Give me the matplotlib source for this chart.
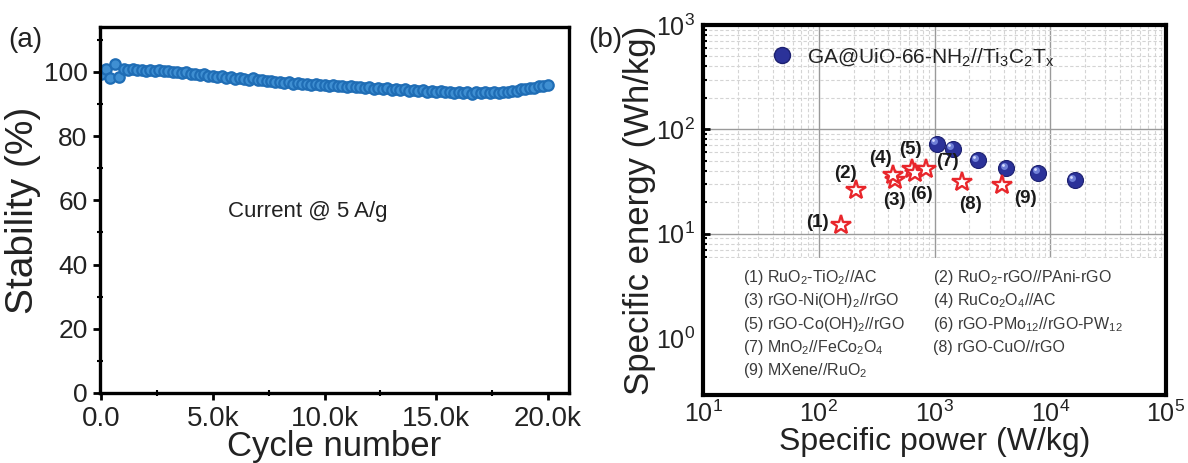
import numpy as np
import matplotlib
matplotlib.use("Agg")
import matplotlib.pyplot as plt
import matplotlib.transforms as mtransforms
from matplotlib.ticker import MultipleLocator, LogLocator, NullFormatter
from matplotlib.patches import Rectangle
from matplotlib.lines import Line2D

plt.rcParams['font.family'] = ['Liberation Sans', 'DejaVu Sans']
plt.rcParams['mathtext.fontset'] = 'custom'
plt.rcParams['mathtext.rm'] = 'Liberation Sans'
plt.rcParams['mathtext.it'] = 'Liberation Sans:italic'
plt.rcParams['mathtext.bf'] = 'Liberation Sans:bold'

# ---------------- data: panel (a) ----------------
cycles = list(range(0, 20001, 200))
stability = [99.5, 101.0, 98.0, 102.5, 98.5, 100.8, 100.6, 100.9, 100.5, 100.7,
             100.4, 100.6, 100.3, 100.6, 100.2, 100.4, 100.0, 99.9, 99.6, 99.9,
             99.4, 99.3, 99.0, 99.3, 98.8, 98.7, 98.4, 98.7, 98.2, 98.4,
             97.9, 98.2, 97.8, 97.5, 98.0, 97.4, 97.6, 97.1, 97.3, 96.8,
             97.0, 96.6, 96.8, 96.4, 96.6, 96.2, 96.4, 96.0, 96.2, 95.8,
             96.0, 95.7, 95.9, 95.5, 95.7, 95.3, 95.6, 95.2, 95.4, 95.0,
             95.2, 94.8, 95.1, 94.7, 94.9, 94.5, 94.8, 94.4, 94.6, 94.2,
             94.5, 94.1, 94.3, 93.9, 94.2, 93.8, 94.0, 93.6, 93.9, 93.5,
             93.8, 93.3, 93.7, 93.2, 93.6, 93.3, 93.6, 93.4, 93.7, 93.5,
             93.9, 93.8, 94.2, 94.2, 94.6, 94.6, 95.0, 95.1, 95.5, 95.6,
             95.9]
a_xticks = [0, 5000, 10000, 15000, 20000]
a_xticklabels = ['0.0', '5.0k', '10.0k', '15.0k', '20.0k']
a_yticks = [0, 20, 40, 60, 80, 100]

# ---------------- data: panel (b) ----------------
ga_power = [1045, 1435, 2360, 4170, 7890, 16300]
ga_energy = [72.9, 65.2, 50.4, 42.2, 38.4, 32.5]
ref_labels = ['(1)', '(2)', '(3)', '(4)', '(5)', '(6)', '(7)', '(8)', '(9)']
ref_power = [156, 208, 456, 441, 635, 679, 840, 1718, 3855]
ref_energy = [12.2, 25.9, 32.4, 36.1, 41.9, 38.4, 41.9, 31.1, 28.9]
ref_names = [r'(1) RuO$_2$-TiO$_2$//AC',
             r'(2) RuO$_2$-rGO//PAni-rGO',
             r'(3) rGO-Ni(OH)$_2$//rGO',
             r'(4) RuCo$_2$O$_4$//AC',
             r'(5) rGO-Co(OH)$_2$//rGO',
             r'(6) rGO-PMo$_{12}$//rGO-PW$_{12}$',
             r'(7) MnO$_2$//FeCo$_2$O$_4$',
             r'(8) rGO-CuO//rGO',
             r'(9) MXene//RuO$_2$']
ga_label = r'GA@UiO-66-NH$_2$//Ti$_3$C$_2$T$_\mathrm{x}$'

# label offsets (pixels) for reference numbers
lab_off = [(-24, 2), (-10, 17), (-1, -20), (-13, 17), (-1, 19), (6, -22), (22, 7), (9, -22), (23, -13)]

fig = plt.figure(figsize=(11.88, 4.63), dpi=100)
tick_col = '#222222'

# ================= panel (a) =================
axa = fig.add_axes([100/1188, 1-393/463, (569-100)/1188, (393-27)/463])
axa.plot(cycles, stability, linestyle='none', marker='o', markersize=7.5,
         markerfacecolor='#3f8fd2', markeredgecolor='#1f6db5', markeredgewidth=1.6)
axa.set_xlim(-60, 20950)
axa.set_ylim(0, 114)
axa.set_xticks(a_xticks)
axa.set_xticklabels(a_xticklabels)
axa.set_yticks(a_yticks)
axa.xaxis.set_minor_locator(MultipleLocator(2500))
axa.yaxis.set_minor_locator(MultipleLocator(10))
axa.tick_params(axis='both', which='major', direction='out', length=5, width=2,
                colors='black', labelcolor=tick_col, pad=3)
axa.tick_params(axis='x', which='major', labelsize=20, pad=4)
axa.tick_params(axis='y', which='major', labelsize=19, pad=4)
axa.tick_params(axis='both', which='minor', direction='inout', length=4, width=1.5)
for s in axa.spines.values():
    s.set_linewidth(2.4)
axa.set_xlabel('Cycle number', fontsize=25, color=tick_col, labelpad=-1)
axa.set_ylabel('Stability (%)', fontsize=28, color=tick_col, labelpad=2)
axa.text(0.444, 0.495, 'Current @ 5 A/g', transform=axa.transAxes, fontsize=16,
         color=tick_col, ha='center', va='center')
fig.text(8/1188, 1-40/463, '(a)', fontsize=20, color=tick_col, va='center', ha='left')

# ================= panel (b) =================
axb = fig.add_axes([703/1188, 1-395/463, (1166-703)/1188, (395-25)/463])
axb.set_xscale('log')
axb.set_yscale('log')
axb.set_xlim(10, 1e5)
axb.set_ylim(0.283, 1000)
axb.set_axisbelow(True)
axb.grid(True, which='major', color='#9a9a9a', linewidth=1.0, linestyle='-')
axb.grid(True, which='minor', color='#d4d4d4', linewidth=0.8, linestyle=(0, (3, 2)))
axb.xaxis.set_major_locator(LogLocator(base=10, numticks=10))
axb.xaxis.set_minor_locator(LogLocator(base=10, subs=np.arange(2, 10), numticks=20))
axb.yaxis.set_minor_locator(LogLocator(base=10, subs=np.arange(2, 10), numticks=20))
axb.xaxis.set_minor_formatter(NullFormatter())
axb.yaxis.set_minor_formatter(NullFormatter())
axb.set_yticks([1, 10, 100, 1000])
axb.tick_params(axis='both', which='major', direction='in', length=5, width=2,
                labelsize=18, labelcolor=tick_col, pad=6)
axb.tick_params(axis='x', which='major', pad=4)
axb.tick_params(axis='both', which='minor', direction='in', length=3, width=1.5)
for s in axb.spines.values():
    s.set_linewidth(3.0)

# white area behind the reference list
axb.add_patch(Rectangle((0, 0), 1, 0.37, transform=axb.transAxes,
                        facecolor='white', edgecolor='none', zorder=1))

# GA spheres with highlight
axb.plot(ga_power, ga_energy, linestyle='none', marker='o', markersize=11.5,
         markerfacecolor='#2b3299', markeredgecolor='#1c2070', markeredgewidth=0.8, zorder=4)
hl = mtransforms.offset_copy(axb.transData, fig=fig, x=-2.5, y=2.5, units='dots')
axb.plot(ga_power, ga_energy, linestyle='none', marker='o', markersize=5,
         markerfacecolor='#6f7fd6', markeredgecolor='none', transform=hl, zorder=5)
hl2 = mtransforms.offset_copy(axb.transData, fig=fig, x=-3.5, y=3.5, units='dots')
axb.plot(ga_power, ga_energy, linestyle='none', marker='o', markersize=2,
         markerfacecolor='#d8ddff', markeredgecolor='none', transform=hl2, zorder=6)

# reference stars
axb.plot(ref_power, ref_energy, linestyle='none', marker='*', markersize=15,
         markerfacecolor='white', markeredgecolor='#e8262b', markeredgewidth=1.7, zorder=4)
for lab, px, en, off in zip(ref_labels, ref_power, ref_energy, lab_off):
    axb.annotate(lab, (px, en), xytext=off, textcoords='offset pixels',
                 ha='center', va='center', fontsize=13.5, fontweight='bold',
                 color='#1a1a1a', zorder=6)

# reference list
col_x = [743, 933]
row_y = [277.7, 301, 325, 347.7, 370.7]
for i, name in enumerate(ref_names):
    cx = col_x[i % 2]
    ry = row_y[i // 2]
    fig.text(cx/1188, 1-ry/463, name, fontsize=11.5, color='#3a3a3a',
             ha='left', va='center')

# GA legend
handle = Line2D([], [], linestyle='none', marker='o', markersize=11.5,
                markerfacecolor='#2b3299', markeredgecolor='#1c2070')
leg = axb.legend([handle], [ga_label], loc='center left',
                 bbox_to_anchor=(0.125, 0.914), frameon=False, fontsize=15,
                 handletextpad=0.6, borderaxespad=0, handlelength=1.2)
for t in leg.get_texts():
    t.set_color(tick_col)

axb.set_xlabel('Specific power (W/kg)', fontsize=23, color=tick_col, labelpad=0)
axb.set_ylabel('Specific energy (Wh/kg)', fontsize=25, color=tick_col, labelpad=0)
fig.text(588/1188, 1-40/463, '(b)', fontsize=20, color=tick_col, va='center', ha='left')

fig.savefig('out.png', dpi=100)
